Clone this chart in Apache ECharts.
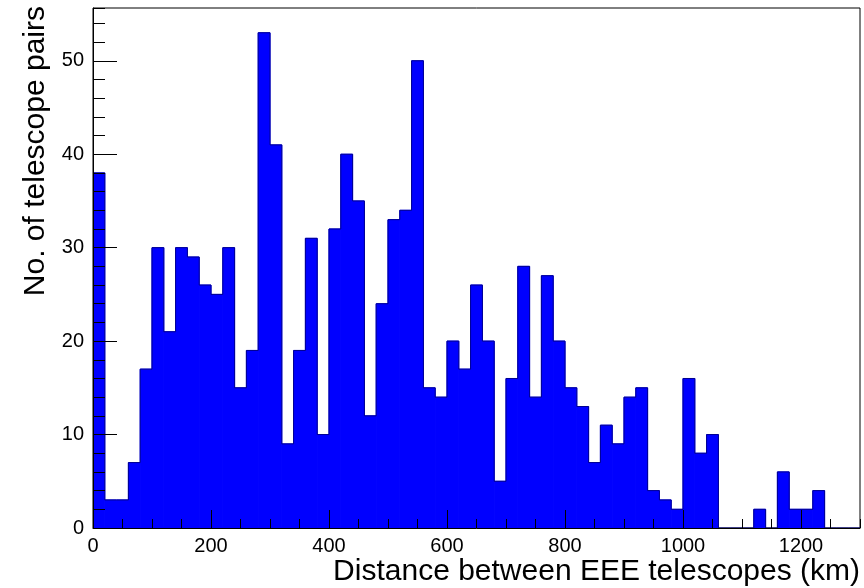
<!DOCTYPE html>
<html>
<head>
<meta charset="utf-8">
<script src="https://cdn.jsdelivr.net/npm/echarts@6/dist/echarts.min.js"></script>
<style>
  html, body { margin: 0; padding: 0; background: #ffffff; }
  #chart { width: 864px; height: 588px; }
</style>
</head>
<body>
<div id="chart"></div>
<script>
// Histogram of distances between EEE telescope pairs, 20 km bins from 0 to 1300 km
const binWidthKm = 20;
const rangeKm = [0, 1300];
const pairCounts = [
  38, 3, 3, 7, 17, 30, 21, 30, 29, 26,
  25, 30, 15, 19, 53, 41, 9, 19, 31, 10,
  32, 40, 35, 12, 24, 33, 34, 50, 15, 14,
  20, 17, 26, 20, 5, 16, 28, 14, 27, 20,
  15, 13, 7, 11, 9, 14, 15, 4, 3, 2,
  16, 8, 10, 0, 0, 0, 2, 0, 6, 2,
  2, 4, 0, 0, 0
];
const xTickLabels = [0, 200, 400, 600, 800, 1000, 1200];
const yTickLabels = [0, 10, 20, 30, 40, 50];
const yRangeMax = 55.65;

const xTitle = 'Distance between EEE telescopes (km)';
const yTitle = 'No. of telescope pairs';

const FONT = '"Liberation Sans", Arial, Helvetica, sans-serif';

// [low edge, high edge, count] per bin
const binData = pairCounts.map((c, i) => [
  rangeKm[0] + i * binWidthKm,
  rangeKm[0] + (i + 1) * binWidthKm,
  c
]);
// step outline of the histogram
const outlineData = pairCounts.map((c, i) => [rangeKm[0] + i * binWidthKm, c]);
outlineData.push([rangeKm[1], pairCounts[pairCounts.length - 1]]);

const chart = echarts.init(document.getElementById('chart'), null, { renderer: 'canvas' });

const labelStyle = { fontSize: 20, color: '#000', fontFamily: FONT };

chart.setOption({
  animation: false,
  backgroundColor: '#ffffff',
  grid: {
    left: 93, right: 4, top: 8, bottom: 60,
    show: true, borderColor: '#000', borderWidth: 1,
    backgroundColor: 'transparent'
  },
  xAxis: [
    {
      type: 'value', min: rangeKm[0], max: rangeKm[1], interval: 200,
      position: 'bottom', z: 10,
      axisLine: { show: true, lineStyle: { color: '#000', width: 1 } },
      axisTick: { show: true, inside: true, length: 18, lineStyle: { color: '#000', width: 1 } },
      axisLabel: Object.assign({
        margin: 8, showMaxLabel: false,
        formatter: v => (xTickLabels.indexOf(v) >= 0 ? String(v) : '')
      }, labelStyle),
      splitLine: { show: false }
    },
    {
      type: 'value', min: rangeKm[0], max: rangeKm[1], interval: 50,
      position: 'bottom', z: 10,
      axisLine: { show: false },
      axisTick: { show: true, inside: true, length: 9, lineStyle: { color: '#000', width: 1 } },
      axisLabel: { show: false },
      splitLine: { show: false }
    }
  ],
  yAxis: [
    {
      type: 'value', min: 0, max: yRangeMax, interval: 10,
      position: 'left', z: 10,
      axisLine: { show: true, lineStyle: { color: '#000', width: 1 } },
      axisTick: { show: true, inside: true, length: 24, lineStyle: { color: '#000', width: 1 } },
      axisLabel: Object.assign({
        margin: 9, showMaxLabel: false,
        formatter: v => (yTickLabels.indexOf(v) >= 0 ? String(v) : '')
      }, labelStyle),
      splitLine: { show: false }
    },
    {
      type: 'value', min: 0, max: yRangeMax, interval: 2,
      position: 'left', z: 10,
      axisLine: { show: false },
      axisTick: { show: true, inside: true, length: 12, lineStyle: { color: '#000', width: 1 } },
      axisLabel: { show: false },
      splitLine: { show: false }
    }
  ],
  series: [
    {
      type: 'custom',
      xAxisIndex: 0, yAxisIndex: 0,
      clip: true,
      encode: { x: [0, 1], y: 2 },
      data: binData,
      z: 2,
      renderItem: function (params, api) {
        const v = api.value(2);
        if (!v) return null;
        const topLeft = api.coord([api.value(0), v]);
        const bottomRight = api.coord([api.value(1), 0]);
        return {
          type: 'rect',
          shape: {
            x: topLeft[0], y: topLeft[1],
            width: bottomRight[0] - topLeft[0],
            height: bottomRight[1] - topLeft[1]
          },
          // same-colour stroke closes the hairline seams between adjacent bins
          style: { fill: '#0000ff', stroke: '#0000ff', lineWidth: 1 }
        };
      }
    },
    {
      type: 'line',
      xAxisIndex: 0, yAxisIndex: 0,
      step: 'end',
      data: outlineData,
      symbol: 'none',
      silent: true,
      z: 3,
      lineStyle: { color: '#000090', width: 1 }
    }
  ],
  graphic: [
    {
      type: 'text', x: 860, y: 572, z: 20,
      style: {
        text: xTitle, fill: '#000', font: '30px ' + FONT,
        textAlign: 'right', textVerticalAlign: 'middle'
      }
    },
    {
      type: 'text', x: 36, y: 6, rotation: Math.PI / 2, z: 20,
      style: {
        text: yTitle, fill: '#000', font: '30px ' + FONT,
        textAlign: 'right', textVerticalAlign: 'middle'
      }
    }
  ]
});
</script>
</body>
</html>
